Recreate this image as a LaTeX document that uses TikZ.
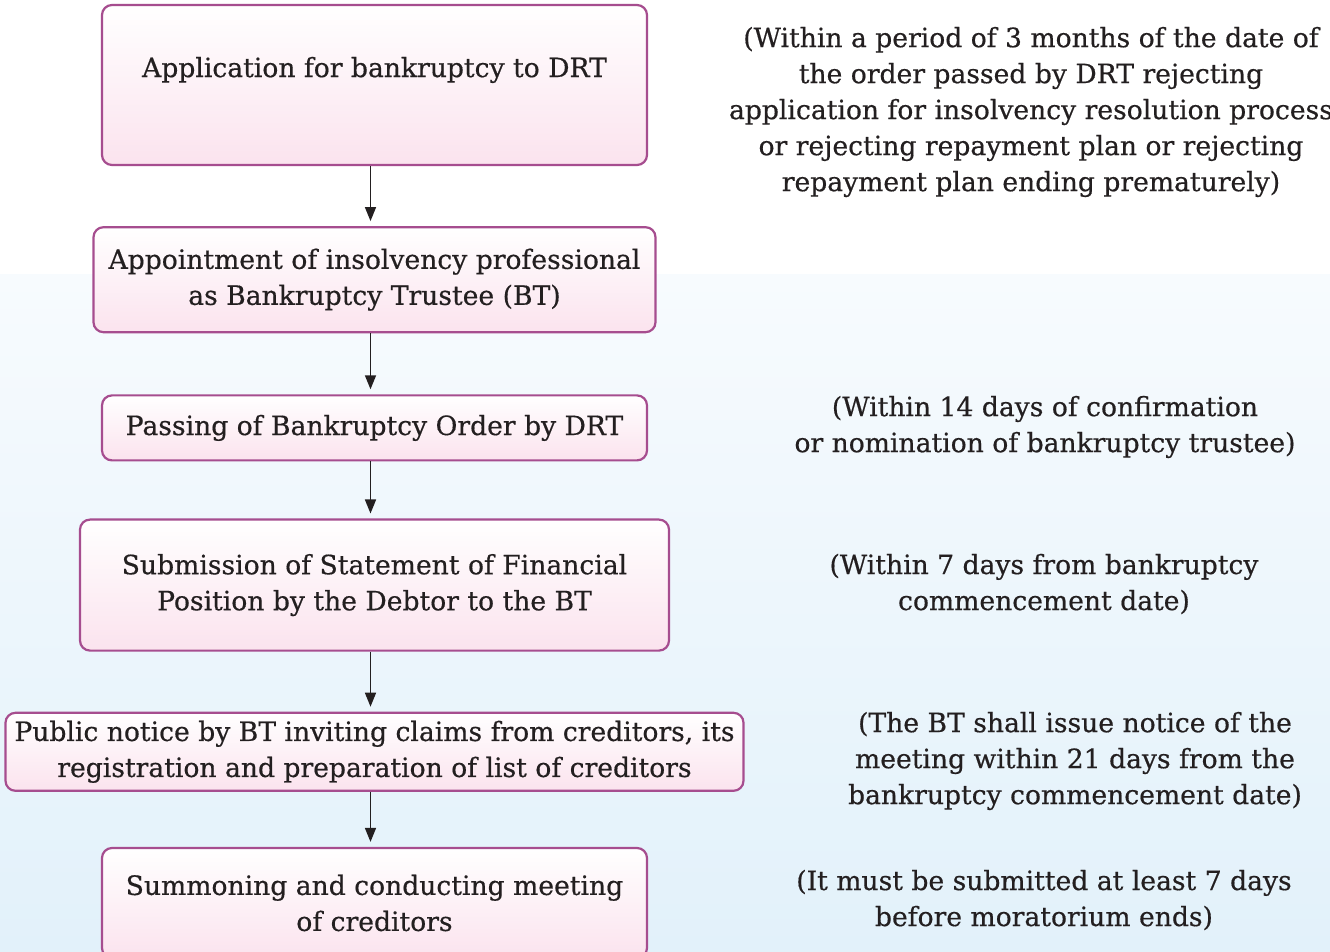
\documentclass[tikz,border=0pt]{standalone}
\usepackage{fontspec}
\setmainfont{DejaVu Serif}[FakeBold=0.5]
\usetikzlibrary{arrows.meta,positioning}
\definecolor{boxline}{HTML}{A64D8F}
\definecolor{boxpink}{HTML}{FBE3EE}
\definecolor{bgtop}{HTML}{F7FBFE}
\definecolor{bgbottom}{HTML}{E2F1FA}
\definecolor{ink}{HTML}{231F20}
\tikzset{
    %Define standard arrow tip
    >={Triangle[length=7pt,width=5.5pt]},
    %Define style for boxes
    stage/.style={
           rectangle,
           rounded corners=5pt,
           draw=boxline, line width=1.1pt,
           top color=white, bottom color=boxpink,
           text=ink,
           align=center,
           inner sep=0pt,
           font=\fontsize{13.3}{18}\selectfont},
    % Define style for the time limits on the right
    note/.style={
           align=center,
           text=ink,
           inner sep=0pt,
           font=\fontsize{13.3}{18}\selectfont},
    % Define arrow style
    pil/.style={
           ->,
           line width=0.75pt,
           draw=ink,
           shorten >=2.5pt}
}

\begin{document}
\begin{tikzpicture}[x=0.5pt,y=-0.5pt]
 \useasboundingbox (0,0) rectangle (1330,952);
 % background
 \fill[white] (0,0) rectangle (1330,275);
 \shade[top color=bgtop, bottom color=bgbottom] (0,275) rectangle (1330,952);
 %stages
 \node[stage, minimum width=272.5pt, minimum height=80pt] (apply) at (374.5,85)
   {Application for bankruptcy to DRT\\ ~};
 \node[stage, minimum width=281pt, minimum height=52.5pt, below=30pt of apply]
   (trustee) {Appointment of insolvency professional\\as Bankruptcy Trustee (BT)};
 \node[stage, minimum width=272.5pt, minimum height=32.5pt, below=30.5pt of trustee]
   (order) {Passing of Bankruptcy Order by DRT};
 \node[stage, minimum width=294.5pt, minimum height=65.5pt, below=28.5pt of order]
   (statement) {Submission of Statement of Financial\\Position by the Debtor to the BT};
 \node[stage, minimum width=369pt, minimum height=39pt, below=30pt of statement]
   (notice) {Public notice by BT inviting claims from creditors, its\\registration and preparation of list of creditors};
 \node[stage, minimum width=272.5pt, minimum height=55pt, below=27.5pt of notice]
   (meeting) {Summoning and conducting meeting\\of creditors};
 % time limits
 \node[note] (t1) at (1031,112) {(Within a period of 3 months of the date of\\the order passed by DRT rejecting\\application for insolvency resolution process\\or rejecting repayment plan or rejecting\\repayment plan ending prematurely)};
 \node[note] (t2) at (1045,427) {(Within 14 days of confirmation\\or nomination of bankruptcy trustee)};
 \node[note] (t3) at (1044,584) {(Within 7 days from bankruptcy\\commencement date)};
 \node[note] (t4) at (1075,761) {(The BT shall issue notice of the\\meeting within 21 days from the\\bankruptcy commencement date)};
 \node[note] (t5) at (1044,900) {(It must be submitted at least 7 days\\before moratorium ends)};
 % arrows
 \foreach \from/\to in {apply/trustee, trustee/order, order/statement,
                        statement/notice, notice/meeting}
   \draw[pil] ([xshift=-2pt]\from.south) -- ([xshift=-2pt]\to.north);
\end{tikzpicture}
\end{document}
